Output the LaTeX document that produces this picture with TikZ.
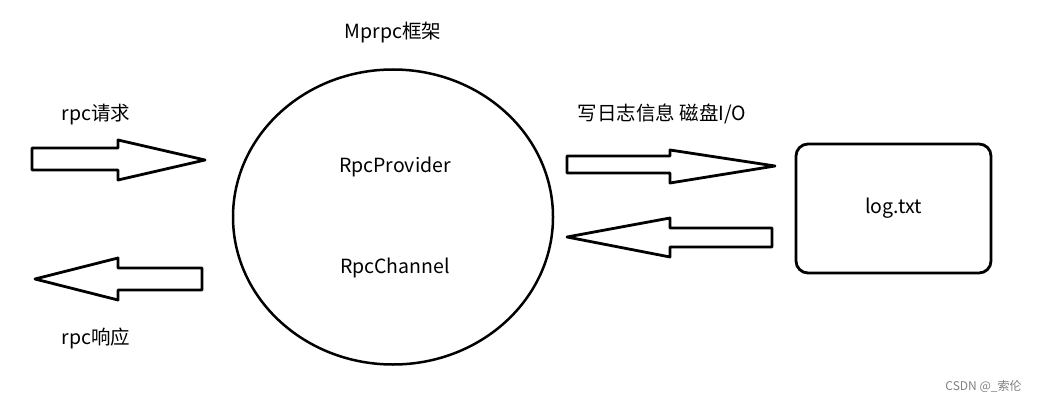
\documentclass[tikz,border=0pt]{standalone}
\usepackage{fontspec}
\setmainfont{Noto Sans CJK SC}
\usetikzlibrary{shapes.geometric}

\begin{document}
\begin{tikzpicture}[x=1pt, y=-1pt, line width=2.8pt,
  every node/.style={font=\fontsize{19.5}{22}\selectfont},
  bigarrow/.style={draw, line join=round}]
  \useasboundingbox (0,0) rectangle (1040,401);

  \node[draw, ellipse, minimum width=320pt, minimum height=295pt, inner sep=0pt, line width=2.5pt] (mprpc) at (393,217) {};
  \node (title)    at (393,33)  {Mprpc框架};
  \node (provider) at (395,167) {RpcProvider};
  \node (channel)  at (395,268) {RpcChannel};

  % rpc in / out
  \draw[bigarrow] (32,148) -- (118,148) -- (118,140) -- (205,160) -- (118,180) -- (118,170) -- (32,170) -- cycle;
  \draw[bigarrow] (202,268) -- (118,268) -- (118,258) -- (35,279) -- (118,300) -- (118,290) -- (202,290) -- cycle;
  \node (reqlabel)  at (96,115)  {rpc请求};
  \node (resplabel) at (96,338)  {rpc响应};

  % log write / read
  \draw[bigarrow] (567,156) -- (670,156) -- (670,150) -- (775,166) -- (670,183) -- (670,173) -- (567,173) -- cycle;
  \draw[bigarrow] (772,228) -- (670,228) -- (670,218) -- (567,237) -- (670,257) -- (670,247) -- (772,247) -- cycle;
  \node (iolabel) at (662,114) {写日志信息 磁盘I/O};

  \node[draw, rounded corners=12pt, minimum width=195pt, minimum height=129pt] (log) at (893.5,208.5) {log.txt};

  \node[font=\fontsize{12}{14}\selectfont, text=gray] (mark) at (983.5,386) {CSDN @\_索伦};
\end{tikzpicture}
\end{document}
